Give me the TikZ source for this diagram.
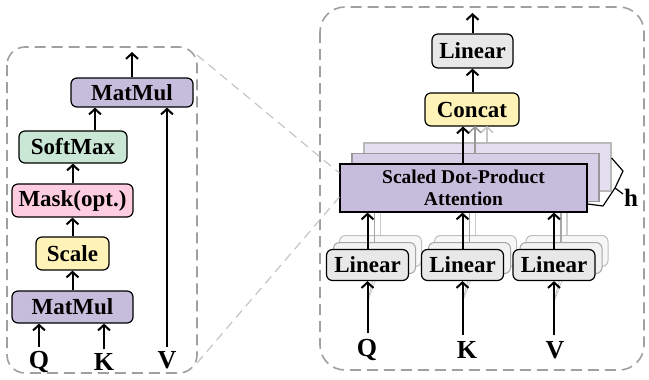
\documentclass[tikz,border=0pt]{standalone}
\usepackage{fontspec}
\setmainfont{Liberation Serif}
\usetikzlibrary{arrows.meta}
\definecolor{purp}{HTML}{C6BCDC}
\definecolor{purpb}{HTML}{D6CFE7}
\definecolor{purpc}{HTML}{E3DEF0}
\definecolor{grn}{HTML}{C9E7D4}
\definecolor{pnk}{HTML}{FFCDE0}
\definecolor{ylw}{HTML}{FFF3B8}
\definecolor{gry}{HTML}{E8E8E8}
\definecolor{panel}{HTML}{A0A0A0}
\begin{document}
\begin{tikzpicture}[x=1pt,y=-1pt,
  box/.style={draw=black, line width=1.2pt, rounded corners=6pt, inner sep=0pt,
    font=\fontsize{23}{25}\selectfont\bfseries},
  lin/.style={box, fill=gry, minimum width=82pt, minimum height=31pt},
  linback/.style={draw=gray!70, fill=gray!10, line width=1pt, rounded corners=6pt,
    minimum width=82pt, minimum height=31pt, inner sep=0pt},
  attbox/.style={draw=black, line width=1.2pt, inner sep=0pt, minimum width=247pt,
    minimum height=48pt},
  lbl/.style={font=\fontsize{26}{28}\selectfont\bfseries, inner sep=0pt},
  arr/.style={-{Straight Barb[length=5.5pt,width=12pt]}, line width=2pt},
  garr/.style={-{Straight Barb[length=5.5pt,width=12pt]}, line width=1.6pt},
  paneldash/.style={draw=panel, line width=1.6pt, dash pattern=on 11pt off 6pt},
  conn/.style={draw=gray!45, line width=1.2pt, dash pattern=on 9pt off 6pt}]
\fill[white] (0,0) rectangle (649,380);
\useasboundingbox (0,0) rectangle (649,380);

% ---------- left panel ----------
\draw[paneldash, rounded corners=18pt] (7,47) rectangle (197,373);
\coordinate (lpne) at (197,55);
\coordinate (lpse) at (197,363);

\node[box, fill=purp, minimum width=122pt, minimum height=29pt] (mm2) at (132,92.5) {MatMul};
\node[box, fill=grn, minimum width=108pt, minimum height=32pt] (sm) at (73,147) {SoftMax};
\node[box, fill=pnk, minimum width=121pt, minimum height=33pt] (mask) at (72.5,200.5) {Mask(opt.)};
\node[box, fill=ylw, minimum width=73pt, minimum height=33pt] (scale) at (72.5,253.5) {Scale};
\node[box, fill=purp, minimum width=121pt, minimum height=32pt] (mm1) at (72.5,307) {MatMul};

\node[lbl] (lq) at (39,362) {Q};
\node[lbl] (lk) at (104,362) {K};
\node[lbl] (lv) at (167,360) {V};
\coordinate (lout) at (132,52);

\draw[arr] ([yshift=4pt]lq.north) -- (lq.north |- mm1.south);
\draw[arr] ([yshift=4pt]lk.north) -- (lk.north |- mm1.south);
\draw[arr] ([yshift=4pt]lv.north) -- (lv.north |- mm2.south);
\draw[arr] (mm1.north) -- (scale.south);
\draw[arr] (scale.north) -- (mask.south);
\draw[arr] (mask.north -| sm.north) -- (sm.south);
\draw[arr] ([xshift=22pt]sm.north) -- ([xshift=22pt]sm.north |- mm2.south);
\draw[arr] (mm2.north) -- (lout);

% ---------- right panel ----------
\draw[paneldash, rounded corners=25pt] (320,7) rectangle (644,370);

% back attention boxes
\node[attbox, draw=gray!55, fill=purpc] (att3) at (487.5,167) {};
\node[attbox, draw=gray!80, fill=purpb] (att2) at (475.5,177.5) {};

% back linear boxes
\foreach \n/\x in {q/367.5,k/462.5,v/554}{
  \node[linback, draw=gray!50, fill=gray!6] (l\n3) at (\x+13,251) {};
  \node[linback] (l\n2) at (\x+7,258) {};
}
% gray connectors of back heads
\foreach \n in {q,k,v}{
  \draw[gray!70, line width=1.4pt] (l\n2.north) -- (l\n2.north |- att2.south);
  \draw[gray!40, line width=1.4pt] (l\n3.north) -- (l\n3.north |- att3.south);
}

\node[attbox, fill=purp, align=center, font=\fontsize{19.5}{22}\selectfont\bfseries] (att) at (463.5,188)
  {Scaled Dot-Product\\Attention};

\foreach \n/\x/\lab/\lx in {q/367.5/Q/367,k/462.5/K/467,v/554/V/555}{
  \coordinate (f\n) at (\x,302);
  \draw[gray!55, line width=0.8pt, -{Straight Barb[length=3pt,width=6pt]}] (f\n) -- (l\n2.south);
  \draw[gray!40, line width=0.8pt, -{Straight Barb[length=3pt,width=6pt]}] (f\n) -- (l\n3.south);
  \node[lin] (l\n) at (\x,265) {Linear};
  \node[lbl] (t\n) at (\lx,350) {\lab};
  \draw[arr] ([yshift=6pt]t\n.north -| l\n.south) -- (l\n.south);
  \draw[arr] (l\n.north) -- (l\n.north |- att.south);
}

% brace + h
\draw[line width=1.2pt, line join=round] (att3.south east |- 0,158) -- (623,171) -- (615,188) -- (603,206) -- (att.east |- 0,204);
\draw[line width=1.2pt] (615,188) -- (623,194);
\node[font=\fontsize{25}{27}\selectfont\bfseries, inner sep=0pt] (h) at (631,198) {h};

\node[box, fill=ylw, minimum width=94pt, minimum height=33pt] (concat) at (472,109.5) {Concat};
\node[box, fill=gry, minimum width=81pt, minimum height=34pt] (lin4) at (472.5,51) {Linear};
\coordinate (rout) at (472.5,13);

\draw[garr, gray!45] (att3.north -| 487,0) -- (487,126);
\draw[garr, gray!80] (att2.north -| 475,0) -- (475,126);
\draw[arr] (att.north -| 463,0) -- (463,126.5);
\draw[arr] (concat.north -| lin4.south) -- (lin4.south);
\draw[arr] (lin4.north) -- (rout);

% zoom connectors
\draw[conn] (lpne) -- ([yshift=15pt]att.west);
\draw[conn] (lpse) -- ([yshift=-9pt]att.west);
\end{tikzpicture}
\end{document}
